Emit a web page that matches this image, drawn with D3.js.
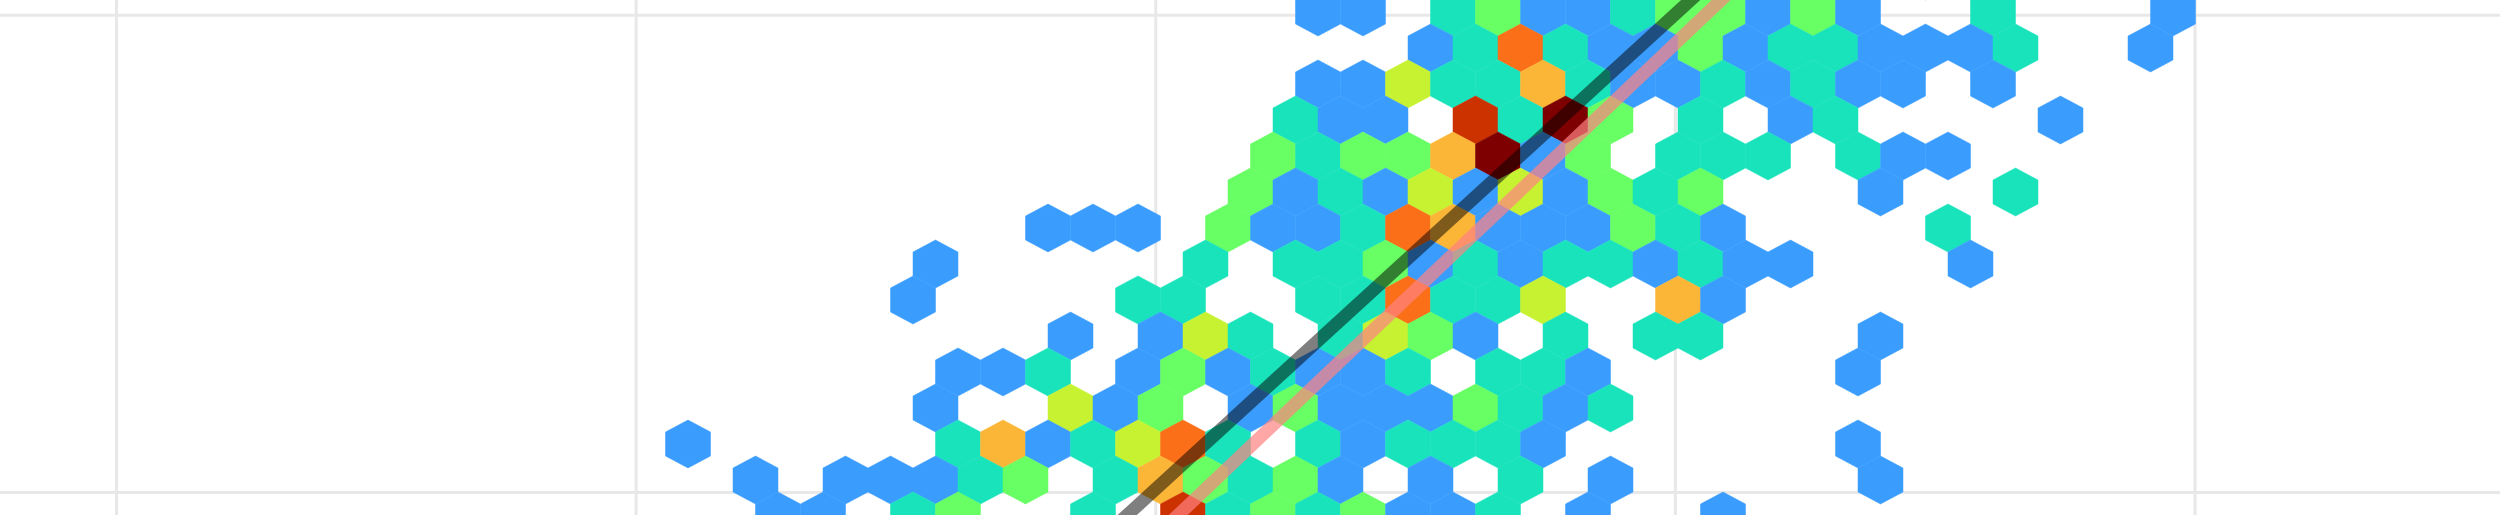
<!DOCTYPE html>
<html><head><meta charset="utf-8">
<style>html,body{margin:0;padding:0;background:#fff;overflow:hidden}svg{display:block;filter:blur(0.6px)}</style>
<script src="https://cdn.jsdelivr.net/npm/d3@7"></script></head><body>
<script>
// Axis ticks (grid positions, in data units)
const xTicks = [0, 1, 2, 3, 4];
const yTicks = [0, 1];
// Hexbin count classes, low to high
const levelColors = ["#3a9dfe", "#19e3bb", "#67ff63", "#c7f232", "#fcb637", "#fb6f18", "#cc3100", "#7e0000"];
// Each row: bin columns with class (1-8)
const rowM1 = [[41,4],[47,4],[53,3],[55,1],[57,1]];
const row0 = [[28,1],[30,1],[34,2],[36,3],[38,1],[40,1],[42,2],[44,3],[46,3],[48,1],[50,3],[52,1],[58,2],[66,1]];
const row1 = [[33,1],[35,2],[37,6],[39,2],[41,1],[43,1],[45,3],[47,1],[49,2],[51,2],[53,1],[55,1],[57,1],[59,2],[65,1]];
const row2 = [[28,1],[30,1],[32,4],[34,2],[36,2],[38,5],[40,2],[42,1],[44,1],[46,2],[48,1],[50,2],[52,1],[54,1],[58,1]];
const row3 = [[27,2],[29,1],[31,1],[35,7],[37,2],[39,8],[41,3],[45,2],[49,1],[51,2],[61,1]];
const row4 = [[26,3],[28,2],[30,3],[32,3],[34,5],[36,8],[38,1],[40,3],[44,2],[46,2],[48,2],[52,2],[54,1],[56,1]];
const row5 = [[25,3],[27,1],[29,2],[31,1],[33,4],[35,1],[37,4],[39,1],[41,3],[43,2],[45,3],[53,1],[59,2]];
const row6 = [[16,1],[18,1],[20,1],[24,3],[26,1],[28,1],[30,2],[32,6],[34,5],[36,1],[38,1],[40,1],[42,3],[44,2],[46,1],[56,2]];
const row7 = [[11,1],[23,2],[27,2],[29,2],[31,3],[33,1],[35,2],[37,1],[39,2],[41,2],[43,1],[45,2],[47,1],[49,1],[57,1]];
const row8 = [[10,1],[20,2],[22,2],[28,2],[30,2],[32,6],[34,2],[36,2],[38,4],[44,5],[46,1]];
const row9 = [[17,1],[21,1],[23,4],[25,2],[29,2],[31,4],[33,3],[35,1],[39,2],[43,2],[45,2],[53,1]];
const row10 = [[12,1],[14,1],[16,2],[20,1],[22,3],[24,1],[26,2],[28,1],[30,1],[32,2],[36,2],[38,2],[40,1],[52,1]];
const row11 = [[11,1],[17,4],[19,1],[21,3],[25,1],[27,3],[29,1],[31,1],[33,1],[35,3],[37,2],[39,1],[41,2]];
const row12 = [[0,1],[12,2],[14,5],[16,1],[18,2],[20,4],[22,6],[24,2],[28,2],[30,1],[32,2],[34,2],[36,2],[38,1],[52,1]];
const row13 = [[3,1],[7,1],[9,1],[11,1],[13,2],[15,3],[19,2],[21,5],[23,3],[25,2],[27,3],[29,1],[33,1],[37,2],[41,1],[53,1]];
const row14 = [[4,1],[6,1],[10,2],[12,3],[18,2],[22,7],[24,2],[26,3],[28,2],[30,3],[32,1],[34,1],[36,2],[40,1],[46,1]];
const hexRowIndex = [-1,0,1,2,3,4,5,6,7,8,9,10,11,12,13,14];
const hexRows = [rowM1,row0,row1,row2,row3,row4,row5,row6,row7,row8,row9,row10,row11,row12,row13,row14];
// Fit lines: [x, y] end points in data units
const darkLine = [[1.894, -0.1], [3.10, 1.10]];
const pinkLine = [[1.994, -0.1], [3.156, 1.10]];

const W = 2500, H = 515;
const x = d3.scaleLinear().domain([0, 4]).range([116, 2194.5]);
const y = d3.scaleLinear().domain([0, 1]).range([492, 14.7]);
const colX = d3.scaleLinear().domain([0, 1]).range([688, 710.5]);
const rowY = d3.scaleLinear().domain([0, 1]).range([12, 48]);
const svg = d3.select("body").append("svg").attr("width", W).attr("height", H);

svg.append("g").attr("transform", `translate(0,${H})`)
  .call(d3.axisBottom(x).tickValues(xTicks).tickSize(-H).tickFormat(""))
  .call(g => g.select(".domain").remove())
  .selectAll("line").attr("stroke", "#e8e8e8").attr("stroke-width", 3);
svg.append("g")
  .call(d3.axisRight(y).tickValues(yTicks).tickSize(W).tickFormat(""))
  .call(g => g.select(".domain").remove())
  .selectAll("line").attr("stroke", "#e8e8e8").attr("stroke-width", 3);

const hx = 22.5, hr = 24;
const hexPath = `M0,${-hr}L${hx},${-hr/2}L${hx},${hr/2}L0,${hr}L${-hx},${hr/2}L${-hx},${-hr/2}Z`;
const cells = hexRows.flatMap((cs, i) => cs.map(([c, l]) => ({c, l, r: hexRowIndex[i]})));
svg.append("g").selectAll("path").data(cells).join("path")
  .attr("d", hexPath)
  .attr("transform", d => `translate(${colX(d.c)},${rowY(d.r)})`)
  .attr("fill", d => levelColors[d.l - 1])
  .attr("stroke", d => levelColors[d.l - 1])
  .attr("stroke-width", 0.5);

const line = d3.line().x(d => x(d[0])).y(d => y(d[1]));
svg.append("path").attr("d", line(darkLine)).attr("stroke", "#000").attr("stroke-opacity", 0.5).attr("stroke-width", 13).attr("fill", "none");
svg.append("path").attr("d", line(pinkLine)).attr("stroke", "#ff8282").attr("stroke-opacity", 0.7).attr("stroke-width", 13).attr("fill", "none");
</script></body></html>
